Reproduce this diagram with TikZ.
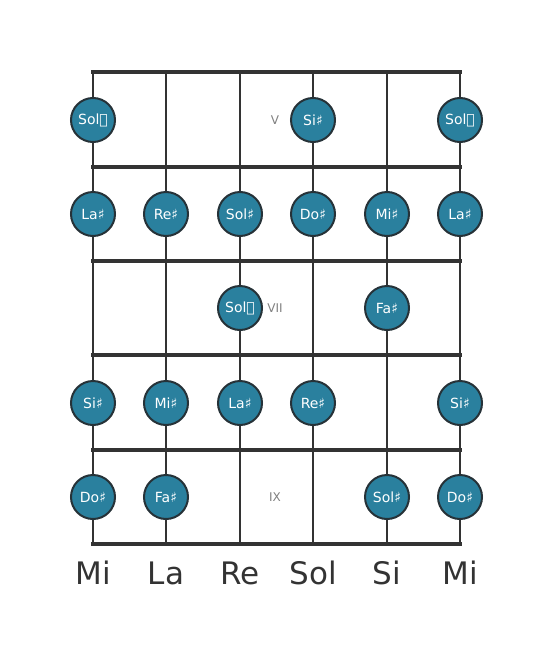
\documentclass[tikz,border=0pt]{standalone}
\usepackage{fontspec}
\setmainfont{DejaVu Sans}
\begin{document}
\begin{tikzpicture}[x=1pt,y=-1pt,
  fretline/.style={line width=4pt,draw=black!80},
  stringline/.style={line width=2.5pt,draw=black!80},
  note/.style={circle,minimum size=44pt,inner sep=0pt,fill=notefill,draw=noteedge,line width=2pt,text=white,font=\fontsize{14}{14}\selectfont},
  roman/.style={text=black!50,font=\fontsize{12}{12}\selectfont},
  strname/.style={text=black!80,font=\fontsize{31}{31}\selectfont}]
\definecolor{notefill}{HTML}{2A809E}
\definecolor{noteedge}{HTML}{263238}
\useasboundingbox (0,0) rectangle (553,656);
% strings
\foreach \x/\n in {93/s1,166/s2,240/s3,313/s4,387/s5,460/s6}{
  \coordinate (\n t) at (\x,72);
  \coordinate (\n b) at (\x,544);
  \draw[stringline] (\n t) -- (\n b);
}
% frets
\foreach \y/\n in {72/f0,167/f1,261/f2,355/f3,450/f4,544/f5}{
  \coordinate (\n l) at (93,\y);
  \coordinate (\n r) at (460,\y);
  \draw[fretline,line cap=rect] (\n l) -- (\n r);
}
% row 1
\node[note] (n11) at (93,120) {Sol𝄪};
\node[note] (n14) at (313,120) {Si♯};
\node[note] (n16) at (460,120) {Sol𝄪};
\node[roman] (r5) at (275,120) {V};
% row 2
\node[note] (n21) at (93,214) {La♯};
\node[note] (n22) at (166,214) {Re♯};
\node[note] (n23) at (240,214) {Sol♯};
\node[note] (n24) at (313,214) {Do♯};
\node[note] (n25) at (387,214) {Mi♯};
\node[note] (n26) at (460,214) {La♯};
% row 3
\node[note] (n33) at (240,308) {Sol𝄪};
\node[roman] (r7) at (275,308) {VII};
\node[note] (n35) at (387,308) {Fa♯};
% row 4
\node[note] (n41) at (93,403) {Si♯};
\node[note] (n42) at (166,403) {Mi♯};
\node[note] (n43) at (240,403) {La♯};
\node[note] (n44) at (313,403) {Re♯};
\node[note] (n46) at (460,403) {Si♯};
% row 5
\node[note] (n51) at (93,497) {Do♯};
\node[note] (n52) at (166,497) {Fa♯};
\node[roman] (r9) at (275,497) {IX};
\node[note] (n55) at (387,497) {Sol♯};
\node[note] (n56) at (460,497) {Do♯};
% string names
\node[strname] (l1) at (93,573) {Mi};
\node[strname] (l2) at (166,573) {La};
\node[strname] (l3) at (240,573) {Re};
\node[strname] (l4) at (313,573) {Sol};
\node[strname] (l5) at (387,573) {Si};
\node[strname] (l6) at (460,573) {Mi};
\end{tikzpicture}
\end{document}
